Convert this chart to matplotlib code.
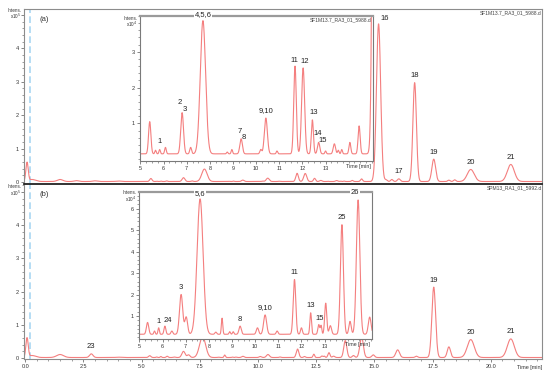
import numpy as np
import matplotlib
matplotlib.use('Agg')
import matplotlib.pyplot as plt
from matplotlib.ticker import MultipleLocator

# --- peak tables (intensity in x10^4 counts) ---
# sample (a) SF1M13.7
a_rt = [0.08, 0.30, 1.50, 2.20, 3.00, 4.00, 5.40, 5.65, 5.83, 6.08, 6.80, 7.17, 7.70,
        8.75, 8.95, 9.35, 10.20, 10.42, 10.90, 11.68, 12.03, 12.43, 12.70, 13.00, 13.38,
        13.55, 13.70, 14.05, 14.45, 15.18, 15.50, 15.75, 16.05, 16.73, 17.55, 18.20,
        18.45, 19.14, 20.86]
a_height = [5.6, 0.6, 0.6, 0.25, 0.2, 0.15, 0.9, 0.1, 0.12, 0.18, 1.15, 0.18, 3.72,
            0.05, 0.12, 0.42, 0.12, 1.0, 0.08, 2.45, 2.4, 0.95, 0.32, 0.08, 0.28,
            0.1, 0.12, 0.32, 0.78, 47.2, 0.5, 0.6, 0.8, 29.6, 6.7, 0.4,
            0.5, 3.6, 5.1]
a_width = [0.05, 0.15, 0.12, 0.1, 0.1, 0.1, 0.05, 0.03, 0.03, 0.035, 0.06, 0.04, 0.115,
           0.03, 0.03, 0.055, 0.04, 0.065, 0.03, 0.055, 0.065, 0.045, 0.05, 0.03, 0.05,
           0.03, 0.03, 0.04, 0.045, 0.09, 0.05, 0.05, 0.06, 0.075, 0.08, 0.05,
           0.05, 0.15, 0.15]

# sample (b) SPM13
b_rt = [0.08, 0.30, 1.50, 2.84, 4.00, 5.35, 5.65, 5.83, 6.10, 6.40, 6.80, 7.02, 7.62,
        8.30, 8.57, 8.90, 9.05, 9.35, 10.10, 10.43, 10.95, 11.70, 12.00, 12.40, 12.75,
        12.85, 13.05, 13.25, 13.75, 14.10, 14.45, 14.95, 16.00, 16.80, 17.55, 18.20,
        19.14, 20.86]
b_height = [5.8, 0.6, 0.9, 1.1, 0.1, 0.55, 0.15, 0.3, 0.38, 0.15, 1.85, 0.8, 6.3,
            0.1, 0.75, 0.12, 0.12, 0.38, 0.3, 0.9, 0.15, 2.55, 0.3, 1.0, 0.45,
            0.4, 1.45, 0.4, 5.1, 0.6, 6.25, 0.8, 2.3, 0.4, 21.2, 3.2,
            5.4, 5.6]
b_width = [0.05, 0.15, 0.15, 0.075, 0.1, 0.05, 0.03, 0.03, 0.04, 0.04, 0.07, 0.06, 0.13,
           0.04, 0.03, 0.03, 0.03, 0.05, 0.05, 0.065, 0.04, 0.055, 0.04, 0.035, 0.04,
           0.03, 0.045, 0.05, 0.065, 0.05, 0.075, 0.06, 0.08, 0.05, 0.08, 0.07,
           0.15, 0.15]

# peak labels
a_ins_lab = ['1', '2', '3', '4,5,6', '7', '8', '9,10', '11', '12', '13', '14', '15']
a_ins_lab_rt = [5.83, 6.80, 6.80, 7.70, 9.35, 9.35, 10.42, 11.68, 12.03, 12.43, 12.70, 12.70]
a_main_lab = ['16', '17', '18', '19', '20', '21']
a_main_lab_rt = [15.18, 16.05, 16.73, 17.55, 19.14, 20.86]
b_ins_lab = ['1', '24', '3', '5,6', '8', '9,10', '11', '13', '15', '25', '26']
b_ins_lab_rt = [5.83, 6.10, 6.80, 7.62, 9.35, 10.43, 11.70, 12.40, 12.80, 13.75, 14.45]
b_main_lab = ['23', '19', '20', '21']
b_main_lab_rt = [2.84, 17.55, 19.14, 20.86]

# label offsets in pixels (layout only)
a_ins_off = [(0, 8), (-2, 10), (3, 3), (0, 6), (-1, 7), (3, 1), (0, 7), (-1, 6), (2, 6),
             (1, 7), (-1, 9), (4, 2)]
a_main_off = [(6, 5), (0, 7), (0, 7), (0, 7), (0, 7), (0, 7)]
b_ins_off = [(0, 6), (3, 6), (0, 7), (0, 5), (0, 7), (0, 7), (0, 7), (0, 7), (0, 6),
             (0, 7), (-3, 7)]
b_main_off = [(0, 7), (0, 7), (0, 7), (0, 7)]

BASE = 0.15
LINE = '#f47f7f'
T = np.linspace(-0.1, 22.3, 6000)


def trace(rt, h, w):
    y = np.full_like(T, BASE)
    for r, hh, ww in zip(rt, h, w):
        y += hh * np.exp(-0.5 * ((T - r) / ww) ** 2)
    return y


def peak_y(y, rt):
    m = np.abs(T - rt) < 0.06
    return y[m].max()


W, H = 550, 374
fig = plt.figure(figsize=(W / 100, H / 100), dpi=100)
plt.rcParams['font.family'] = ['Liberation Sans', 'DejaVu Sans']


def rect(x0, y0, x1, y1):
    return [x0 / W, 1 - y1 / H, (x1 - x0) / W, (y1 - y0) / H]


def style_axes(ax, spine_col='#8c8c8c'):
    for s in ax.spines.values():
        s.set_color(spine_col)
        s.set_linewidth(0.8)
    ax.tick_params(which='both', direction='out', colors='#555555', labelsize=4,
                   labelcolor='#333333', pad=1)
    ax.tick_params(which='major', length=2.5, width=0.5)
    ax.tick_params(which='minor', length=1.5, width=0.4)


def put_labels(ax, y, labs, rts, offs):
    for lab, rt, (dx, dy) in zip(labs, rts, offs):
        kw = {}
        if lab in ('4,5,6', '5,6', '26', '16'):
            kw['bbox'] = dict(facecolor='white', edgecolor='none', pad=0.6)
        ax.annotate(lab, xy=(rt, peak_y(y, rt)), xytext=(dx, dy),
                    textcoords='offset pixels', ha='center', va='center',
                    fontsize=5.5, color='#222222', annotation_clip=False,
                    zorder=6, **kw)


def unit_label(ax, yval, power, dx=-3, up=5):
    ax.annotate('Intens.', xy=(0, yval), xycoords=('axes fraction', 'data'),
                xytext=(dx + 1, up), textcoords='offset pixels', fontsize=3.3,
                color='#333333', ha='right', va='center')
    ax.annotate('x10$^%d$' % power, xy=(0, yval), xycoords=('axes fraction', 'data'),
                xytext=(dx, -1.5), textcoords='offset pixels', fontsize=3.3,
                color='#333333', ha='right', va='center')


ya = trace(a_rt, a_height, a_width)
yb = trace(b_rt, b_height, b_width)

ax_a = fig.add_axes(rect(24, 9, 542, 183))
ax_b = fig.add_axes(rect(24, 184, 542, 359))
ins_a = fig.add_axes(rect(140, 16, 373, 161))
ins_b = fig.add_axes(rect(139, 192, 372, 339))

for ax, y, ytop, tag, fname in [(ax_a, ya, 5.18, '(a)', 'SF1M13.7_RA3_01_5988.d'),
                                 (ax_b, yb, 5.24, '(b)', 'SPM13_RA1_01_5992.d')]:
    ax.plot(T, y / 10, color=LINE, lw=0.8)
    ax.axvline(0.2, color='#a9d7f2', lw=1.2, ls=(0, (4, 2)), zorder=1)
    ax.set_xlim(-0.05, 22.2)
    ax.set_ylim(-0.03, ytop)
    style_axes(ax)
    ax.set_yticks([0, 1, 2, 3, 4, 5])
    ax.set_yticklabels(['0', '1', '2', '3', '4', ''])
    ax.yaxis.set_minor_locator(MultipleLocator(0.2))
    ax.xaxis.set_major_locator(MultipleLocator(2.5))
    ax.xaxis.set_minor_locator(MultipleLocator(0.5))
    ax.text(0.03, 0.93, tag, transform=ax.transAxes, fontsize=5.5, color='#333333')
    ax.text(1.0, 0.995, fname, transform=ax.transAxes, fontsize=3.6, color='#444444',
            ha='right', va='top')
    unit_label(ax, 5, 5)

ax_a.tick_params(axis='x', which='both', labelbottom=False, length=0)
ax_a.spines['bottom'].set_visible(False)
ax_b.spines['top'].set_color('#222222')
ax_b.spines['top'].set_linewidth(1.3)
ax_b.set_xticks([0, 2.5, 5, 7.5, 10, 12.5, 15, 17.5, 20])
ax_b.set_xticklabels(['0.0', '2.5', '5.0', '7.5', '10.0', '12.5', '15.0', '17.5', '20.0'])
ax_b.text(1.0, -0.035, 'Time [min]', transform=ax_b.transAxes, fontsize=4,
          color='#333333', ha='right', va='top')

for ins, y, ytop, ylo, yt, top_tick in [(ins_a, ya, 4.0, -0.05, [1, 2, 3], 3.8),
                                        (ins_b, yb, 6.77, -0.07, [1, 2, 3, 4, 5, 6], 6.5)]:
    ins.plot(T, y, color=LINE, lw=0.8, clip_on=True)
    ins.set_xlim(4.98, 15.05)
    ins.set_ylim(ylo, ytop)
    style_axes(ins, '#7a7a7a')
    ins.spines['top'].set_linewidth(1.6)
    ins.spines['top'].set_color('#9a9a9a')
    ins.set_facecolor('white')
    ins.set_yticks(yt)
    ins.yaxis.set_minor_locator(MultipleLocator(0.2))
    ins.set_xticks([5, 6, 7, 8, 9, 10, 11, 12, 13])
    ins.xaxis.set_minor_locator(MultipleLocator(0.25))
    ins.text(0.99, -0.02, 'Time [min]', transform=ins.transAxes, fontsize=3.8,
             color='#333333', ha='right', va='top')
    unit_label(ins, top_tick, 4)

ins_a.text(0.995, 0.99, 'SF1M13.7_RA3_01_5988.d', transform=ins_a.transAxes,
           fontsize=3.6, color='#444444', ha='right', va='top')

put_labels(ins_a, ya, a_ins_lab, a_ins_lab_rt, a_ins_off)
put_labels(ax_a, ya / 10, a_main_lab, a_main_lab_rt, a_main_off)
put_labels(ins_b, yb, b_ins_lab, b_ins_lab_rt, b_ins_off)
put_labels(ax_b, yb / 10, b_main_lab, b_main_lab_rt, b_main_off)

fig.savefig('out.png', dpi=100)
